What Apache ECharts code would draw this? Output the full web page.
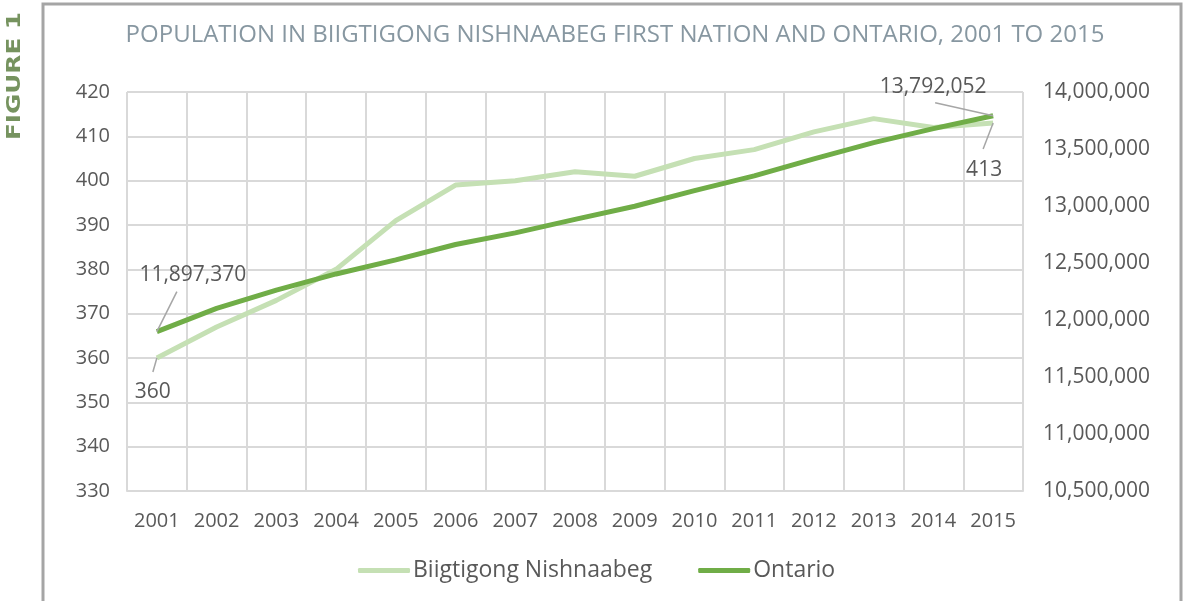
<!DOCTYPE html>
<html>
<head>
<meta charset="utf-8">
<title>Population chart</title>
<script src="https://cdn.jsdelivr.net/npm/echarts@6/dist/echarts.min.js"></script>
<style>
	html, body { margin: 0; padding: 0; background: #fff; }
	#main { width: 1184px; height: 601px; }
</style>
</head>
<body>
	<div id="main"></div>
<script type="text/javascript">
	// years on the x axis
	var years = ['2001', '2002', '2003', '2004', '2005', '2006', '2007', '2008',
		'2009', '2010', '2011', '2012', '2013', '2014', '2015'];
	// Biigtigong Nishnaabeg (left axis)
	var biigtigong = [360, 367, 373, 380, 391, 399, 400, 402, 401, 405, 407, 411, 414, 412, 413];
	// Ontario (right axis)
	var ontario = [11897370, 12102000, 12262000, 12404000, 12528000, 12662000, 12764000,
		12883000, 12998000, 13135000, 13264000, 13414000, 13556000, 13679000, 13792052];

	var font = 'Open Sans';
	var grey = '#595959';
	var last = years.length - 1;

	function withCommas(v) {
		return Number(v).toLocaleString('en-US');
	}
	// only first and last points get a data label
	function pointItems(arr) {
		return arr.map(function (v, i) {
			return { value: v, label: { show: i === 0 || i === last } };
		});
	}

	var frame = [{
		type: 'rect',
		shape: { x: 43, y: 4, width: 1138, height: 610 },
		style: { fill: null, stroke: '#a5a5a5', lineWidth: 3 },
		silent: true
	}, {
		type: 'text',
		x: 15,
		y: 76,
		rotation: Math.PI / 2,
		scaleX: 1.3,
		style: {
			text: 'FIGURE 1', fill: '#76935f', fontFamily: 'DejaVu Sans', fontWeight: 'bold', fontSize: 19,
			align: 'center', verticalAlign: 'middle'
		}
	}];

	var chart = echarts.init(document.getElementById('main'));
	var option = {
		backgroundColor: '#fff',
		animation: false,
		title: {
			text: 'POPULATION IN BIIGTIGONG NISHNAABEG FIRST NATION AND ONTARIO, 2001 TO 2015',
			left: 610,
			textAlign: 'center',
			top: 18,
			textStyle: { color: '#8797a1', fontFamily: font, fontWeight: 'normal', fontSize: 24 }
		},
		legend: {
			bottom: 14,
			left: 353,
			itemWidth: 52,
			itemHeight: 5,
			itemGap: 46,
			icon: 'roundRect',
			textStyle: { color: grey, fontFamily: font, fontSize: 23, padding: [0, 0, 0, -2] },
			data: ['Biigtigong Nishnaabeg', 'Ontario']
		},
		grid: { left: 127, right: 161, top: 92, bottom: 110, containLabel: false },
		xAxis: {
			type: 'category',
			data: years,
			boundaryGap: true,
			axisLine: { lineStyle: { color: '#d9d9d9', width: 2 } },
			axisTick: { show: false },
			axisLabel: { color: grey, fontFamily: font, fontSize: 20, margin: 20, interval: 0 },
			splitLine: { show: true, interval: 0, lineStyle: { color: '#d9d9d9', width: 2 } }
		},
		yAxis: [{
			type: 'value',
			min: 330,
			max: 420,
			interval: 10,
			axisLine: { show: false },
			axisTick: { show: false },
			axisLabel: { color: grey, fontFamily: font, fontSize: 20, margin: 17 },
			splitLine: { lineStyle: { color: '#d9d9d9', width: 2 } }
		}, {
			type: 'value',
			min: 10500000,
			max: 14000000,
			interval: 500000,
			position: 'right',
			axisLine: { show: false },
			axisTick: { show: false },
			axisLabel: { color: grey, fontFamily: font, fontSize: 21, margin: 20, formatter: withCommas },
			splitLine: { show: false }
		}],
		series: [{
			name: 'Biigtigong Nishnaabeg',
			type: 'line',
			yAxisIndex: 0,
			data: pointItems(biigtigong),
			symbol: 'circle',
			symbolSize: 0,
			lineStyle: { color: '#c5e0b4', width: 5 },
			itemStyle: { color: '#c5e0b4' },
			label: { position: 'bottom', color: grey, fontFamily: font, fontSize: 21 },
			labelLayout: function (p) {
				if (p.dataIndex === 0) return { dx: -4, dy: 19 };
				return { dx: -9, dy: 31 };
			},
			z: 2
		}, {
			name: 'Ontario',
			type: 'line',
			yAxisIndex: 1,
			data: pointItems(ontario),
			symbol: 'circle',
			symbolSize: 0,
			lineStyle: { color: '#70ad47', width: 5 },
			itemStyle: { color: '#70ad47' },
			label: {
				position: 'top', color: grey, fontFamily: font, fontSize: 21,
				formatter: function (p) { return withCommas(p.value); }
			},
			labelLayout: function (p) {
				if (p.dataIndex === 0) return { dx: 36, dy: -41 };
				return { dx: -60, dy: -13 };
			},
			z: 3
		}],
		graphic: frame
	};
	chart.setOption(option);

	// leader lines from the labelled points, placed with the chart's own scales
	function leader(seriesIndex, idx, value, lx, ly) {
		var p = chart.convertToPixel({ seriesIndex: seriesIndex }, [idx, value]);
		return {
			type: 'line',
			shape: { x1: p[0], y1: p[1], x2: p[0] + lx, y2: p[1] + ly },
			style: { stroke: '#a6a6a6', lineWidth: 1.5 },
			z: 10,
			silent: true
		};
	}
	chart.setOption({
		graphic: frame.concat([
			leader(1, 0, ontario[0], 20, -40),
			leader(0, 0, biigtigong[0], -4, 14),
			leader(1, last, ontario[last], -58, -13),
			leader(0, last, biigtigong[last], -10, 26)
		])
	});
</script>
</body>
</html>
